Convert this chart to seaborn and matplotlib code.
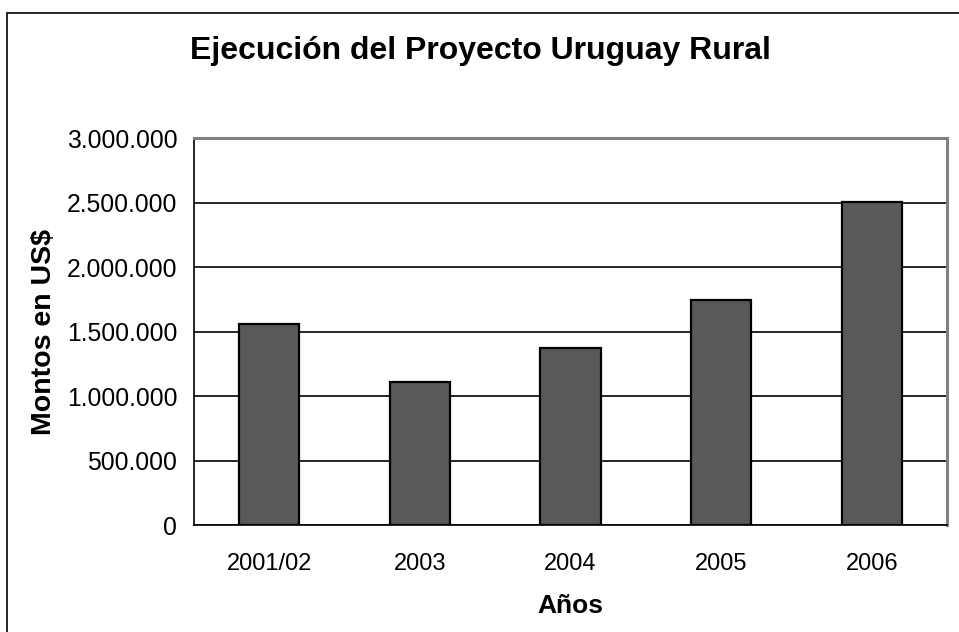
import matplotlib
matplotlib.use("Agg")
import matplotlib.pyplot as plt
import matplotlib.ticker as mticker
from matplotlib.patches import Rectangle
import seaborn as sns
import pandas as pd

categories = ["2001/02", "2003", "2004", "2005", "2006"]
montos = [1560000, 1110000, 1375000, 1750000, 2505000]
y_ticks = [0, 500000, 1000000, 1500000, 2000000, 2500000, 3000000]

title = "Ejecución del Proyecto Uruguay Rural"
xlabel = "Años"
ylabel = "Montos en US$"

sns.set_style("white")
plt.rcParams["font.family"] = ["Liberation Sans", "DejaVu Sans"]
plt.rcParams["text.color"] = "black"
plt.rcParams["axes.labelcolor"] = "black"
plt.rcParams["xtick.color"] = "black"
plt.rcParams["ytick.color"] = "black"

df = pd.DataFrame({"Año": categories, "Monto": montos})

fig = plt.figure(figsize=(9.59, 6.32), dpi=100)
ax = fig.add_axes([194/959, 1-525.3/632, (947-194)/959, (525.3-138.3)/632])

sns.barplot(data=df, x="Año", y="Monto", ax=ax, color="#595959", saturation=1,
            width=0.4, edgecolor="black", linewidth=1.6, zorder=3)

ax.set_ylim(0, 3000000)
ax.set_xlim(-0.5, len(categories) - 0.5)
ax.set_yticks(y_ticks)
ax.yaxis.set_major_formatter(mticker.FuncFormatter(lambda v, p: f"{int(v):,}".replace(",", ".")))
ax.yaxis.grid(True, color="black", linewidth=1.2, zorder=0)
ax.set_axisbelow(True)

# x ticks at category boundaries
ax.set_xticks(range(len(categories)))
ax.set_xticklabels(categories)
ax.tick_params(axis="x", length=0, pad=20, labelsize=17)
ax.set_xticks([i - 0.5 for i in range(len(categories) + 1)], minor=True)
ax.tick_params(axis="x", which="minor", length=8, width=1, color="black", direction="out")
ax.tick_params(axis="y", length=8, width=1, color="black", direction="out", labelsize=17.8, pad=4)

for s in ["left", "bottom"]:
    ax.spines[s].set_color("black")
    ax.spines[s].set_linewidth(1.2)
for s in ["top", "right"]:
    ax.spines[s].set_color("#808080")
    ax.spines[s].set_linewidth(2.2)

ax.set_xlabel(xlabel, fontsize=19, fontweight="bold")
ax.set_ylabel(ylabel, fontsize=20.5, fontweight="bold")
ax.xaxis.set_label_coords(0.5, -0.1775)
ax.yaxis.set_label_coords(-0.182, 0.5)

fig.text(480/959, 1-51/632, title, ha="center", va="center", fontsize=23, fontweight="bold")

fig.patches.append(Rectangle((7/959, -0.1), 1.2, 1 - 13/632 + 0.1, transform=fig.transFigure,
                             fill=False, edgecolor="black", linewidth=1.2, zorder=10))

fig.savefig("out.png", dpi=100)
